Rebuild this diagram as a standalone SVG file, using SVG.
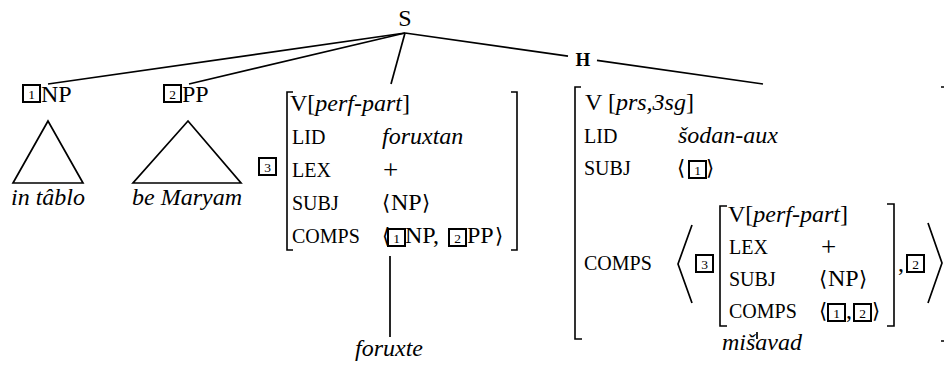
<svg xmlns="http://www.w3.org/2000/svg" width="944" height="365" viewBox="0 0 944 365" font-family="'Liberation Serif', 'Times New Roman', Times, serif">
<style>
text{font-family:'Liberation Serif','Times New Roman',Times,serif;font-size:24px;fill:#000}
.i{font-style:italic}
.sc{font-size:20px}
.ang{font-family:'DejaVu Serif','Liberation Serif',serif;font-size:21px}
.n{font-size:13.5px;text-anchor:middle}
.m{text-anchor:middle}
.bx{fill:none;stroke:#000;stroke-width:2}
.br{fill:none;stroke:#000;stroke-width:1.6}
.ln{stroke:#000;stroke-width:1.7;fill:none}
.pl{font-size:27px}
</style>
<rect width="944" height="365" fill="#fff"/>

<g id="connectors">
<line class="ln" x1="405" y1="33" x2="48" y2="84"/>
<line class="ln" x1="405" y1="33" x2="189" y2="84"/>
<line class="ln" x1="405" y1="33" x2="391" y2="84"/>
<line class="ln" x1="405" y1="33" x2="568" y2="56.2"/>
<line class="ln" x1="597" y1="60.4" x2="763" y2="84"/>
<line class="ln" x1="390" y1="256" x2="390" y2="337"/>
<line class="ln" x1="757" y1="332" x2="757" y2="339"/>
</g>

<g id="S"><text class="m" x="405" y="26">S</text></g>
<g id="H-label"><text class="m" x="583" y="66" style="font-weight:bold;font-size:19px">H</text></g>

<g id="np1">
<rect class="bx" x="23" y="85" width="17" height="17"/><text class="n" x="31.5" y="98.5">1</text>
<text x="41" y="102">NP</text>
<polygon class="ln" points="48,121 13,183 83,183"/>
<text class="i m" x="48" y="205">in tâblo</text>
</g>

<g id="pp2">
<rect class="bx" x="164" y="85" width="17" height="17"/><text class="n" x="172.5" y="98.5">2</text>
<text x="182" y="102">PP</text>
<polygon class="ln" points="188,121 133,183 241,183"/>
<text class="i m" x="187" y="205">be Maryam</text>
</g>

<g id="avm-foruxtan">
<rect class="bx" x="259" y="158" width="17" height="17"/><text class="n" x="267.5" y="171.5">3</text>
<path class="br" d="M293,92 H287 V250 H293"/>
<path class="br" d="M511,92 H517 V250 H511"/>
<text x="290" y="111">V[<tspan class="i">perf-part</tspan>]</text>
<text class="sc" x="292" y="144">LID</text><text class="i" x="382" y="144">foruxtan</text>
<text class="sc" x="292" y="177">LEX</text><text class="pl" x="383" y="179">+</text>
<text class="sc" x="292" y="210">SUBJ</text><text class="ang" x="382" y="210">⟨</text><text x="391" y="210">NP</text><text class="ang" x="422" y="210">⟩</text>
<text class="sc" x="292" y="243">COMPS</text>
<text class="ang" x="382" y="243">⟨</text>
<rect class="bx" x="388" y="229" width="17" height="17"/><text class="n" x="396.5" y="242.5">1</text>
<text x="405" y="243">NP,</text>
<rect class="bx" x="449" y="229" width="17" height="17"/><text class="n" x="457.5" y="242.5">2</text>
<text x="467" y="243">PP</text>
<text class="ang" x="495" y="243">⟩</text>
<text class="i m" x="389" y="356">foruxte</text>
</g>

<g id="avm-sodan">
<path class="br" d="M581,87 H575 V339 H582"/>
<path class="br" d="M941,87 H947 V341 H941"/>
<text x="585" y="110">V [<tspan class="i">prs,3sg</tspan>]</text>
<text class="sc" x="584" y="143">LID</text><text class="i" x="678" y="143">šodan-aux</text>
<text class="sc" x="584" y="175">SUBJ</text>
<text class="ang" x="677" y="175">⟨</text>
<rect class="bx" x="689" y="161" width="17" height="17"/><text class="n" x="697.5" y="174.5">1</text>
<text class="ang" x="706" y="175">⟩</text>
<text class="sc" x="584" y="270">COMPS</text>
<polyline class="ln" points="692,225 678,264 692,303"/>
<rect class="bx" x="696" y="255" width="17" height="17"/><text class="n" x="704.5" y="268.5">3</text>
<path class="br" d="M727,206 H720 V326 H727"/>
<path class="br" d="M887,204 H894 V326 H887"/>
<text x="728" y="222">V[<tspan class="i">perf-part</tspan>]</text>
<text class="sc" x="729" y="254">LEX</text><text class="pl" x="821" y="256">+</text>
<text class="sc" x="729" y="286">SUBJ</text><text class="ang" x="819" y="286">⟨</text><text x="828" y="286">NP</text><text class="ang" x="859" y="286">⟩</text>
<text class="sc" x="729" y="318">COMPS</text>
<text class="ang" x="819" y="318">⟨</text>
<rect class="bx" x="828" y="304" width="17" height="17"/><text class="n" x="836.5" y="317.5">1</text>
<text x="846" y="318">,</text>
<rect class="bx" x="854" y="304" width="17" height="17"/><text class="n" x="862.5" y="317.5">2</text>
<text class="ang" x="872" y="318">⟩</text>
<text x="898" y="271">,</text>
<rect class="bx" x="907" y="255" width="17" height="17"/><text class="n" x="915.5" y="268.5">2</text>
<polyline class="ln" points="928,223 942,263 928,303"/>
<text class="i m" x="762" y="350">mišavad</text>
</g>
</svg>
